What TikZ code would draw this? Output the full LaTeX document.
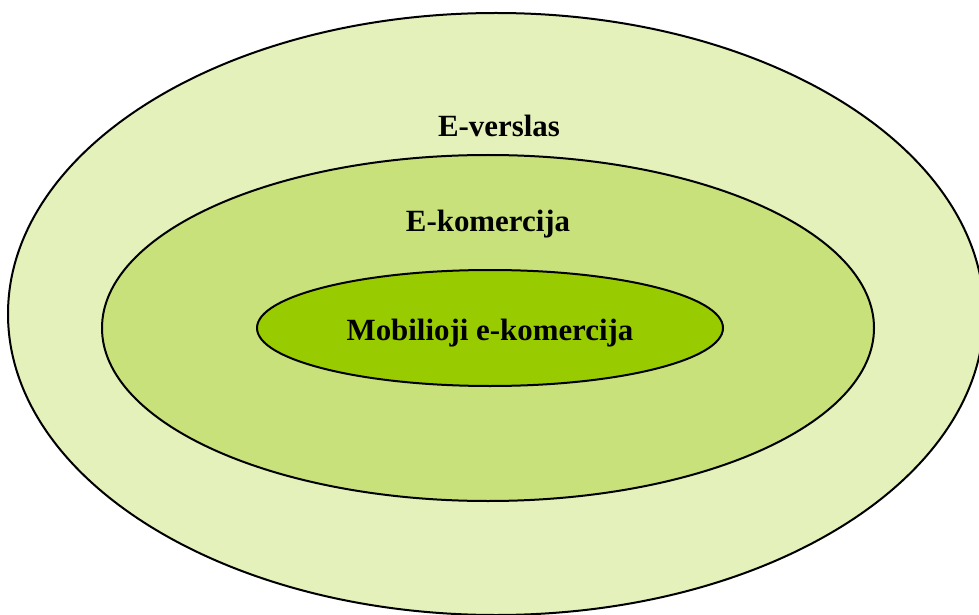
\documentclass[tikz,border=0pt]{standalone}
\usepackage{fontspec}
\setmainfont{Liberation Serif}
\definecolor{outergreen}{RGB}{228,241,186}
\definecolor{midgreen}{RGB}{200,225,122}
\definecolor{innergreen}{RGB}{153,204,0}
\tikzset{ring/.style={draw=black,line width=2bp},
 lbl/.style={font=\fontsize{31}{36}\selectfont\bfseries}}

\begin{document}
\begin{tikzpicture}[x=1bp,y=-1bp]
 \useasboundingbox (0,0) rectangle (979,615);
 \draw[ring,fill=outergreen] (496,314) ellipse (488 and 301);
 \draw[ring,fill=midgreen] (488,328) ellipse (386 and 173);
 \draw[ring,fill=innergreen] (490,328) ellipse (233 and 58);
 \node[lbl] (business) at (499,126) {E-verslas};
 \node[lbl] (commerce) at (488,224) {E-komercija};
 \node[lbl] (mobile) at (490,333) {Mobilioji e-komercija};
\end{tikzpicture}
\end{document}
